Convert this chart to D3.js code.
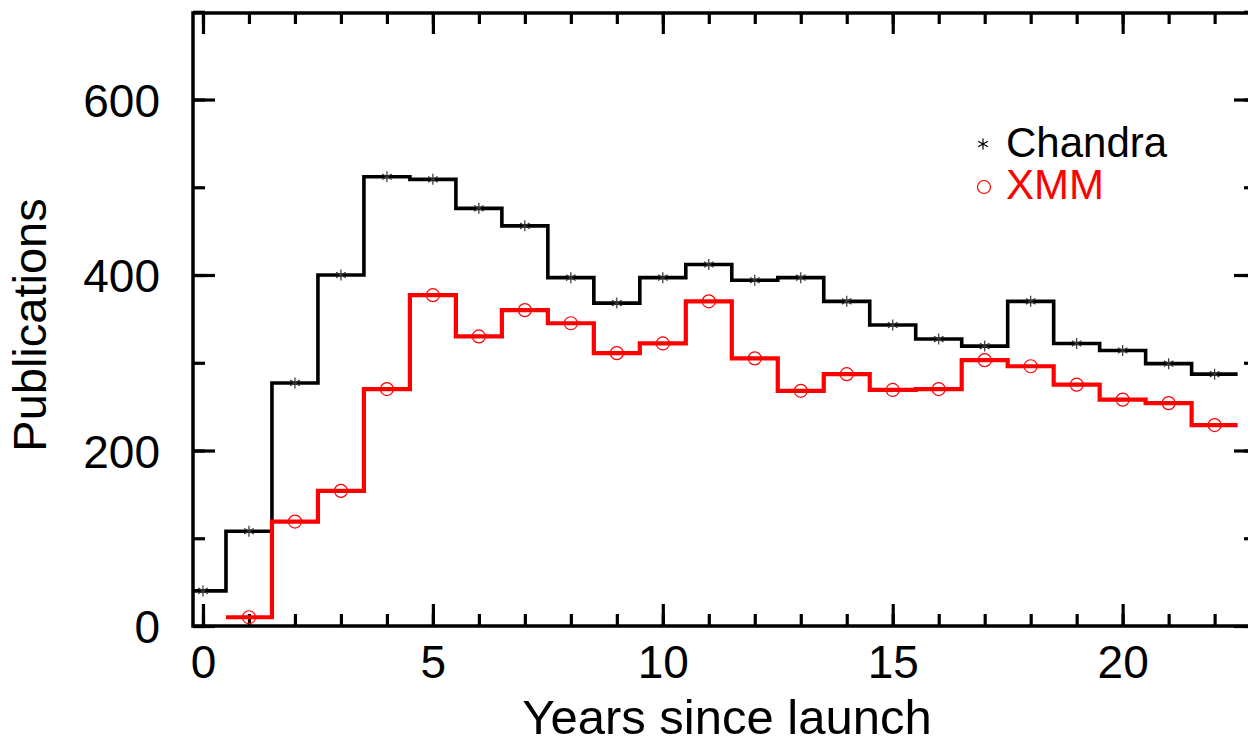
<!DOCTYPE html>
<html><head><meta charset="utf-8">
<script src="https://cdn.jsdelivr.net/npm/d3@7"></script>
<style>html,body{margin:0;padding:0;background:#fff;overflow:hidden}svg{display:block}text{font-family:"Liberation Sans",Arial,sans-serif}</style>
</head><body>
<script>
const chandraYears = [0,1,2,3,4,5,6,7,8,9,10,11,12,13,14,15,16,17,18,19,20,21,22];
const chandraValues = [40,108,277,400,512,509,476,456,397,368,397,412,394,397,370,343,327,319,370,322,314,299,287];
const xmmYears = [1,2,3,4,5,6,7,8,9,10,11,12,13,14,15,16,17,18,19,20,21,22];
const xmmValues = [10,119,154,270,377,330,360,345,311,322,370,305,268,287,269,270,303,296,275,258,254,229];
const xMajorTicks = [0,5,10,15,20];
const yMajorTicks = [0,200,400,600];
const legendLabels = ["Chandra","XMM"];

const W=1248,H=737;
const L=193,R=1256,T=13,B=626;
const x=d3.scaleLinear().domain([-0.217,22.9]).range([L,R]);
const y=d3.scaleLinear().domain([0,698.6]).range([B,T]);

const svg=d3.select("body").append("svg").attr("width",W).attr("height",H);
svg.append("defs").append("clipPath").attr("id","clip").append("rect")
  .attr("x",L).attr("y",T).attr("width",R-L).attr("height",B-T);

const xMinor=d3.range(0,23);
const yMinor=d3.range(0,701,100);

function axis(gen,tx,ty,ticks,size,labels){
  const g=svg.append("g").attr("transform",`translate(${tx},${ty})`)
    .call(gen.tickValues(ticks).tickSize(size).tickPadding(0).tickFormat(labels?d3.format("d"):""));
  g.select(".domain").remove();
  g.selectAll(".tick line").attr("stroke","#000").attr("stroke-width",3.2);
  return g;
}
axis(d3.axisBottom(x),0,B,xMinor,-12,false);
axis(d3.axisTop(x),0,T,xMinor,-11,false);
axis(d3.axisLeft(y),L,0,yMinor,-12,false);
axis(d3.axisRight(y),R,0,yMinor,-12,false);
const gxb=axis(d3.axisBottom(x),0,B,xMajorTicks,-22,true);
gxb.selectAll(".tick text").attr("font-size",46).attr("fill","#000").attr("y",52).attr("dy",0);
axis(d3.axisTop(x),0,T,xMajorTicks,-21,false);
const gyl=axis(d3.axisLeft(y),L,0,yMajorTicks,-22,true);
gyl.selectAll(".tick text").attr("font-size",46).attr("fill","#000").attr("x",-33).attr("dy","0.36em");
axis(d3.axisRight(y),R,0,yMajorTicks,-22,false);

svg.append("rect").attr("x",L).attr("y",T).attr("width",R-L).attr("height",B-T)
  .attr("fill","none").attr("stroke","#000").attr("stroke-width",3.5);

svg.append("text").attr("x",727).attr("y",734).attr("text-anchor","middle")
  .attr("font-size",49).text("Years since launch");
svg.append("text").attr("transform","translate(46,325) rotate(-90)").attr("text-anchor","middle")
  .attr("font-size",47).text("Publications");

function stepPts(xs,vs){
  const pts=[];
  xs.forEach((d,i)=>{pts.push([d-0.5,vs[i]]);pts.push([d+0.5,vs[i]]);});
  return pts;
}
const line=d3.line().x(d=>x(d[0])).y(d=>y(d[1]));
const plot=svg.append("g").attr("clip-path","url(#clip)");
plot.append("path").attr("d",line(stepPts(chandraYears,chandraValues)))
  .attr("fill","none").attr("stroke","#000").attr("stroke-width",3.6).attr("stroke-linejoin","miter");
plot.append("path").attr("d",line(stepPts(xmmYears,xmmValues)))
  .attr("fill","none").attr("stroke","#ff0000").attr("stroke-width",4.2).attr("stroke-linejoin","miter");

const star="M0,-5.5L0,5.5M-4.8,-2.8L4.8,2.8M-4.8,2.8L4.8,-2.8";
plot.selectAll(".cm").data(chandraYears).enter().append("path")
  .attr("transform",(d,i)=>`translate(${x(d)},${y(chandraValues[i])})`)
  .attr("d",star).attr("stroke","#333").attr("stroke-width",1.2).attr("fill","none");
plot.selectAll(".xm").data(xmmYears).enter().append("circle")
  .attr("cx",d=>x(d)).attr("cy",(d,i)=>y(xmmValues[i])).attr("r",6.5)
  .attr("fill","none").attr("stroke","#ff0000").attr("stroke-width",1.2);

svg.append("path").attr("transform","translate(983,144)").attr("d",star)
  .attr("stroke","#000").attr("stroke-width",1.2).attr("fill","none");
svg.append("circle").attr("cx",984).attr("cy",187).attr("r",6.5)
  .attr("fill","none").attr("stroke","#ff0000").attr("stroke-width",1.2);
svg.append("text").attr("x",1006).attr("y",157).attr("font-size",42).attr("fill","#000").text(legendLabels[0]);
svg.append("text").attr("x",1006).attr("y",199).attr("font-size",42).attr("fill","#ff0000").text(legendLabels[1]);
</script>
</body></html>
